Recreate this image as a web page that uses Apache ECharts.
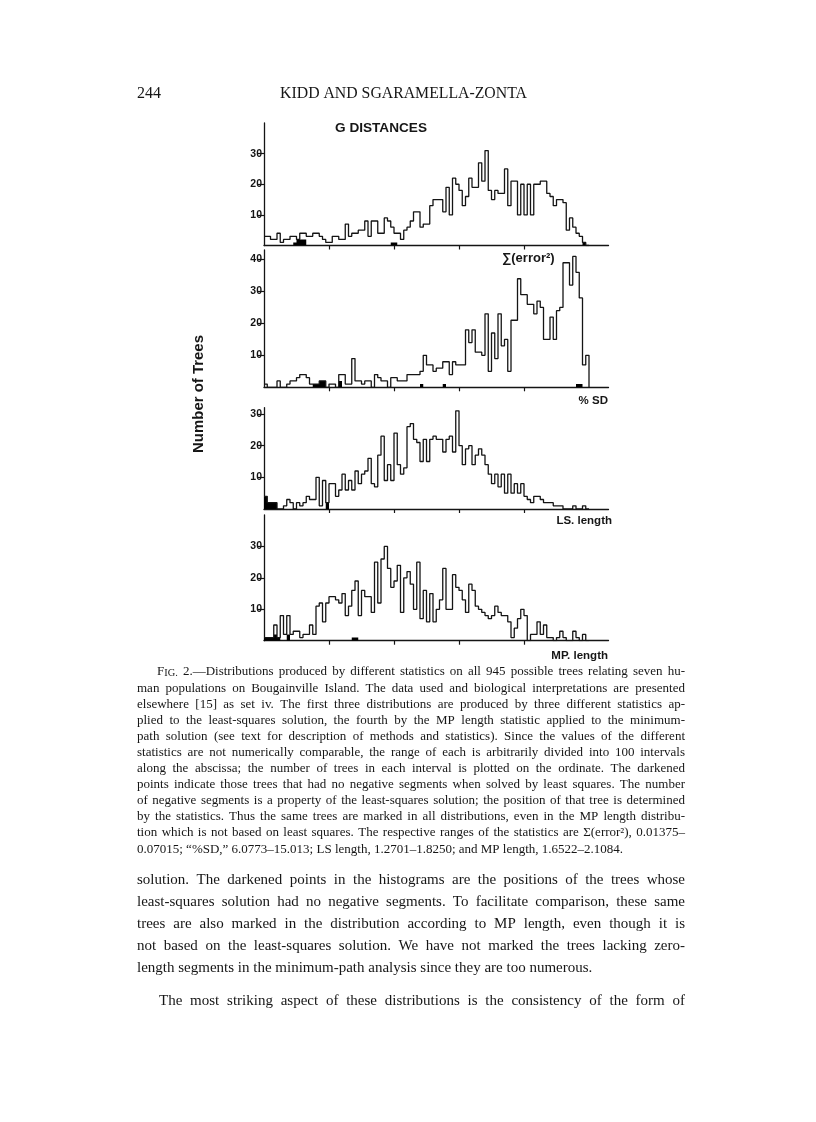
<!DOCTYPE html>
<html>
<head>
<meta charset="utf-8">
<script src="https://cdn.jsdelivr.net/npm/echarts@6/dist/echarts.min.js"></script>
<style>
html, body { margin: 0; padding: 0; background: #fff; }
#page { width: 816px; height: 1122px; }
</style>
</head>
<body>
<div id="page"></div>
<script>
// number of trees in each of the 100 intervals
var errorSq = [3,3,2,2,4,1,2,2,3,3, 2,4,4,3,3,4,4,3,2,1, 1,3,3,2,2,7,3,4,4,5, 5,8,3,8,8,4,4,9,8,6,
               4,4,2,5,6,8,11,11,6,7, 7,13,15,15,15,11,19,10,22,20, 18,13,16,22,19,19,27,21,31,18,
               15,18,17,17,25,13,21,21,10,20, 10,20,10,20,20,21,21,17,16,13, 15,15,14,5,9,6,4,3,1,0];
var pctSD   = [1,0,0,0,2,0,0,1,2,2, 3,4,4,3,1,1,1,2,2,0, 1,1,0,4,4,1,1,9,2,2, 1,2,2,0,4,3,2,2,0,3,
               3,2,2,2,4,4,4,4,5,10, 7,7,5,6,6,8,8,4,8,7, 7,7,18,14,18,11,11,10,23,5,
               17,9,23,13,15,5,21,21,34,29, 29,26,26,23,27,25,15,15,22,15, 24,25,39,39,32,41,36,28,7,10];
var lsLength = [4,2,2,2,0,0,1,3,2,0, 2,1,2,4,3,3,10,1,9,2, 8,8,4,6,11,6,9,6,12,8, 11,12,16,8,7,17,23,9,14,9,
               24,14,11,13,26,27,22,21,15,22, 15,22,23,22,22,18,22,23,18,31, 20,14,19,20,14,17,19,17,14,11,
               8,11,7,11,5,11,5,8,5,8, 4,3,2,4,4,3,2,2,2,1, 1,1,0,0,0,1,0,0,1,0];
var mpLength = [1,1,1,5,1,8,2,8,2,3, 3,1,2,2,5,2,11,12,6,12, 14,14,13,12,15,8,11,16,19,8, 16,14,14,9,25,12,26,30,23,17,
               19,24,9,20,22,18,10,25,7,16, 6,15,6,10,13,23,10,10,21,17, 16,13,9,18,16,11,10,9,8,7,
               8,11,9,8,8,6,1,4,7,10, 8,0,2,2,6,2,5,1,1,0, 1,3,1,0,0,3,1,0,2,0];

// darkened part: trees with no negative segments (bin index, count)
var darkErrorSq  = [[9,1],[10,2],[11,2],[12,2],[39,1],[40,1],[98,1]];
var darkPctSD    = [[15,1],[16,1],[17,2],[18,2],[23,2],[48,1],[55,1],[96,1],[97,1]];
var darkLsLength = [[0,4],[1,2],[2,2],[3,2],[19,2]];
var darkMpLength = [[0,1],[1,1],[2,1],[3,2],[4,1],[7,2],[27,1],[28,1]];

var axisLabels = ['\u2211(error\u00b2)', '% SD', 'LS. length', 'MP. length'];
var yTicks = [[10,20,30], [10,20,30,40], [10,20,30], [10,20,30]];
var xTicks = [20,40,60,80];

var captionLines = [
  'FIG. 2.\u2014Distributions produced by different statistics on all 945 possible trees relating seven hu-',
  'man populations on Bougainville Island. The data used and biological interpretations are presented',
  'elsewhere [15] as set iv. The first three distributions are produced by three different statistics ap-',
  'plied to the least-squares solution, the fourth by the MP length statistic applied to the minimum-',
  'path solution (see text for description of methods and statistics). Since the values of the different',
  'statistics are not numerically comparable, the range of each is arbitrarily divided into 100 intervals',
  'along the abscissa; the number of trees in each interval is plotted on the ordinate. The darkened',
  'points indicate those trees that had no negative segments when solved by least squares. The number',
  'of negative segments is a property of the least-squares solution; the position of that tree is determined',
  'by the statistics. Thus the same trees are marked in all distributions, even in the MP length distribu-',
  'tion which is not based on least squares. The respective ranges of the statistics are \u03a3(error\u00b2), 0.01375\u2013',
  '0.07015; \u201c%SD,\u201d 6.0773\u201315.013; LS length, 1.2701\u20131.8250; and MP length, 1.6522\u20132.1084.'
];
var bodyLines = [
  'solution. The darkened points in the histograms are the positions of the trees whose',
  'least-squares solution had no negative segments. To facilitate comparison, these same',
  'trees are also marked in the distribution according to MP length, even though it is',
  'not based on the least-squares solution. We have not marked the trees lacking zero-',
  'length segments in the minimum-path analysis since they are too numerous.',
  'The most striking aspect of these distributions is the consistency of the form of'
];

var ctx = document.createElement('canvas').getContext('2d');
function measure(text, size, family, weight) {
  ctx.font = (weight || 'normal') + ' ' + size + 'px ' + family;
  return ctx.measureText(text).width;
}
var SERIF = '"Liberation Serif"';
var SANS = '"Liberation Sans"';

var graphics = [];

function addText(text, x, y, size, family, weight, align, rot) {
  graphics.push({
    type: 'text', x: x, y: y, rotation: rot || 0, silent: true,
    style: { text: text, fontSize: size, fontFamily: family, fontWeight: weight || 'normal',
             fill: '#161616', align: align || 'left', verticalAlign: 'middle' }
  });
}
// fit a label into a known width
function fitText(text, x0, x1, y, family, weight) {
  var size = 20 * (x1 - x0) / measure(text, 20, family, weight);
  addText(text, (x0 + x1) / 2, y, size, family, weight, 'center');
}

// justified line of serif text, word by word
function setLine(str, x0, x1, y, size, justify) {
  var words = str.split(' ');
  var items = words.map(function (w) {
    var parts = (w === 'FIG.') ? [{ t: 'F', s: size }, { t: 'IG.', s: size * 0.8 }] : [{ t: w, s: size }];
    var wd = 0;
    parts.forEach(function (p) { p.w = measure(p.t, p.s, SERIF); wd += p.w; });
    return { parts: parts, w: wd };
  });
  var total = items.reduce(function (a, b) { return a + b.w; }, 0);
  var gap = (justify && words.length > 1) ? (x1 - x0 - total) / (words.length - 1) : measure(' ', size, SERIF);
  var x = x0;
  items.forEach(function (it) {
    it.parts.forEach(function (p) {
      addText(p.t, x, y + 0.35 * (size - p.s), p.s, SERIF);
      x += p.w;
    });
    x += gap;
  });
}

var TL = 137, TR = 685;
addText('244', TL, 94, 16, SERIF);
fitText('KIDD AND SGARAMELLA-ZONTA', 280, 527, 94, SERIF);

captionLines.forEach(function (l, i) {
  setLine(l, i === 0 ? TL + 20 : TL, TR, 672 + i * 16.1, 13, i < captionLines.length - 1);
});
var bodyY = [880, 902, 924, 946, 968, 1001];
bodyLines.forEach(function (l, i) {
  setLine(l, i === 5 ? TL + 22 : TL, TR, bodyY[i], 15, i !== 4);
});

fitText('G DISTANCES', 335, 427, 128, SANS, 'bold');
addText(axisLabels[0], 502, 258, 13, SANS, 'bold');
addText(axisLabels[1], 608, 401, 11.5, SANS, 'bold', 'right');
addText(axisLabels[2], 612, 521, 11.5, SANS, 'bold', 'right');
addText(axisLabels[3], 608, 656, 11.5, SANS, 'bold', 'right');
// rotated axis title
(function () {
  var t = 'Number of Trees';
  var size = 20 * 118 / measure(t, 20, SANS, 'bold');
  addText(t, 199, 394, size, SANS, 'bold', 'center', Math.PI / 2);
})();

var panels = [
  { data: errorSq,  dark: darkErrorSq,  top: 123,   height: 122.5, max: 40 },
  { data: pctSD,    dark: darkPctSD,    top: 250,   height: 137.3, max: 43 },
  { data: lsLength, dark: darkLsLength, top: 407.7, height: 101.3, max: 32 },
  { data: mpLength, dark: darkMpLength, top: 515,   height: 125.7, max: 40 }
];

function toSteps(arr) {
  var out = arr.map(function (v, i) { return [i, v]; });
  out.push([arr.length, 0]);
  return out;
}
function darkSteps(pairs, n) {
  var arr = [];
  for (var i = 0; i < n; i++) arr.push(0);
  pairs.forEach(function (p) { arr[p[0]] = p[1]; });
  return toSteps(arr);
}

var ink = '#141414';
var grids = [], xAxes = [], yAxes = [], series = [];
panels.forEach(function (p, i) {
  grids.push({ left: 264, width: 344.5, top: p.top, height: p.height });
  xAxes.push({
    type: 'value', gridIndex: i, min: 0, max: 106,
    axisLine: { show: true, lineStyle: { color: ink, width: 1.3 } },
    axisTick: { show: true, customValues: xTicks, length: 4, lineStyle: { color: ink, width: 1.2 } },
    axisLabel: { show: false }, splitLine: { show: false }
  });
  yAxes.push({
    type: 'value', gridIndex: i, min: 0, max: p.max,
    axisLine: { show: true, lineStyle: { color: ink, width: 1.3 } },
    axisTick: { show: true, customValues: yTicks[i], length: 6, lineStyle: { color: ink, width: 1.2 } },
    axisLabel: { show: true, customValues: yTicks[i], margin: 2, fontSize: 10.5, fontWeight: 'bold',
                 fontFamily: 'Liberation Sans', color: ink },
    splitLine: { show: false }
  });
  series.push({
    type: 'line', xAxisIndex: i, yAxisIndex: i, step: 'end', symbol: 'none', silent: true,
    data: toSteps(p.data), lineStyle: { color: ink, width: 1.3 }
  });
  series.push({
    type: 'line', xAxisIndex: i, yAxisIndex: i, step: 'end', symbol: 'none', silent: true,
    data: darkSteps(p.dark, p.data.length), lineStyle: { width: 0 },
    areaStyle: { color: '#000', opacity: 1 }
  });
});

var chart = echarts.init(document.getElementById('page'), null, { renderer: 'canvas' });
chart.setOption({
  animation: false,
  backgroundColor: '#fff',
  grid: grids,
  xAxis: xAxes,
  yAxis: yAxes,
  series: series,
  graphic: graphics
});
</script>
</body>
</html>
